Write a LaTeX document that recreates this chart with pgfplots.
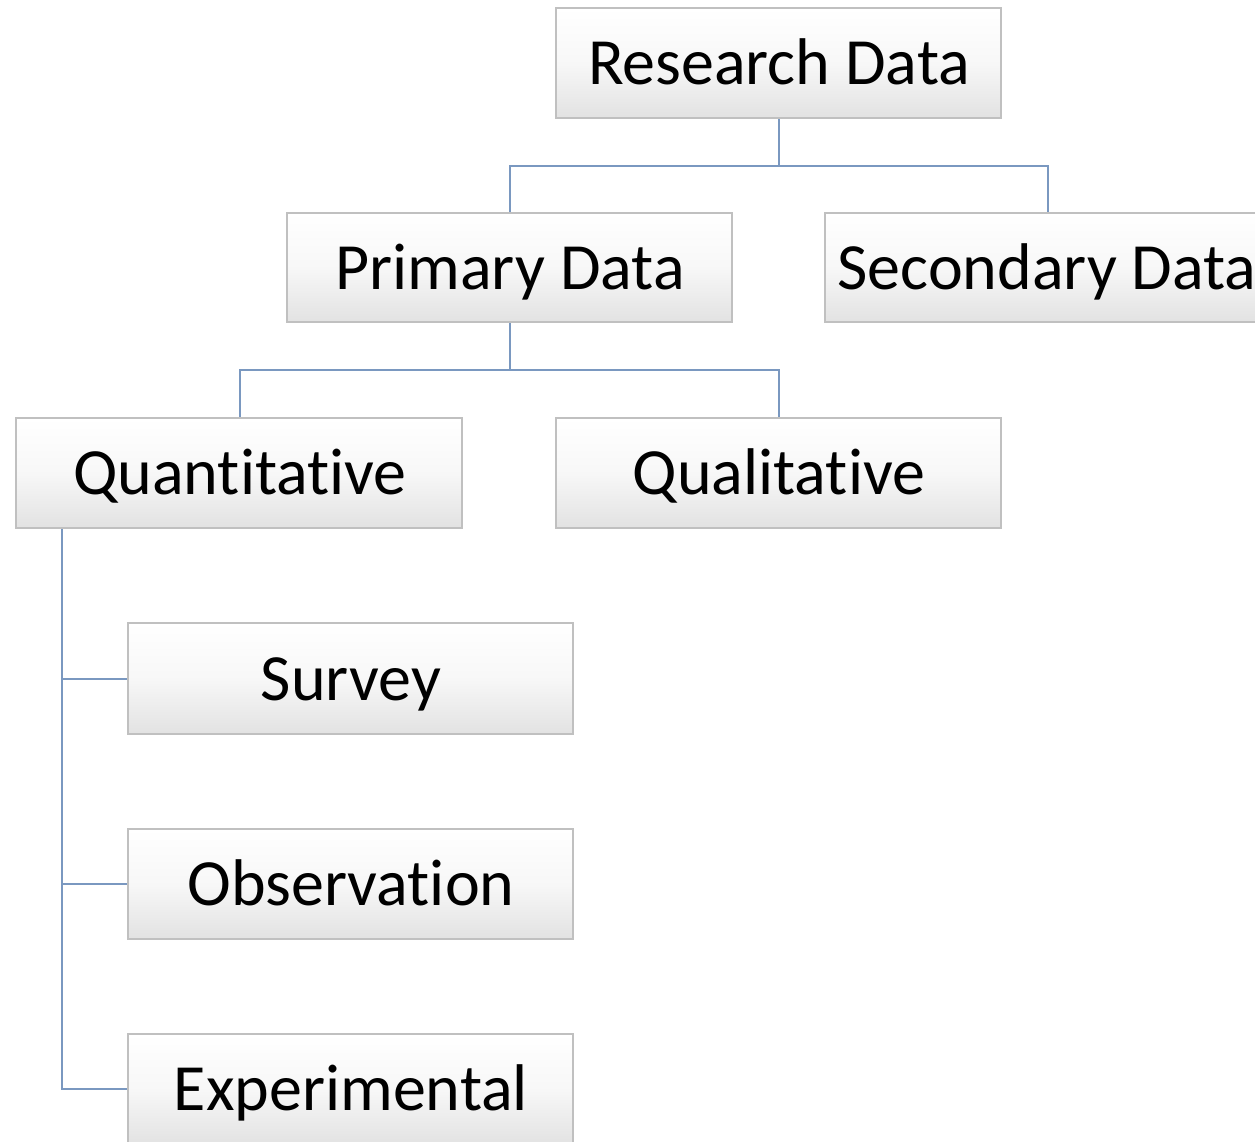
\documentclass[border=0pt]{standalone}
\usepackage{pgfplots}
\pgfplotsset{compat=1.18}
\usepackage{fontspec}
\setmainfont{Carlito}[Ligatures={NoCommon}]
\definecolor{conn}{RGB}{122,152,192}
\definecolor{bord}{RGB}{192,192,192}
\definecolor{shadebot}{RGB}{226,226,226}
\newcommand{\boxlabel}[1]{\fontsize{33}{38}\selectfont #1}
\begin{document}
\begin{tikzpicture}
\begin{axis}[
  scale only axis, width=627.5pt, height=571pt,
  xmin=0, xmax=1255, ymin=0, ymax=1142, y dir=reverse,
  hide axis, clip=false,
]
% connectors
\addplot[conn, line width=1pt] coordinates {(779,118) (779,166)};
\addplot[conn, line width=1pt] coordinates {(510,213) (510,166) (1048,166) (1048,213)};
\addplot[conn, line width=1pt] coordinates {(510,322) (510,370)};
\addplot[conn, line width=1pt] coordinates {(240,418) (240,370) (779,370) (779,418)};
\addplot[conn, line width=1pt] coordinates {(62,528) (62,1089) (128,1089)};
\addplot[conn, line width=1pt] coordinates {(62,679) (128,679)};
\addplot[conn, line width=1pt] coordinates {(62,884) (128,884)};
% boxes
\foreach \xa/\ya/\xb/\yb in {556/8/1001/118, 287/213/732/322, 825/213/1270/322, 16/418/462/528, 556/418/1001/528, 128/623/573/734, 128/829/573/939, 128/1034/573/1145}{
  \edef\tmp{\noexpand\draw[bord, line width=0.75pt, top color=white, bottom color=shadebot, middle color=white!97!black]
    (axis cs:\xa,\ya) rectangle (axis cs:\xb,\yb);}
  \tmp
}
\node[anchor=base] at (axis cs:779,84) {\boxlabel{Research Data}};
\node[anchor=base] at (axis cs:510,289) {\boxlabel{Primary Data}};
\node[anchor=base] at (axis cs:1047,289) {\boxlabel{Secondary Data}};
\node[anchor=base] at (axis cs:240,494) {\boxlabel{Quantitative}};
\node[anchor=base] at (axis cs:779,494) {\boxlabel{Qualitative}};
\node[anchor=base] at (axis cs:351,700) {\boxlabel{Survey}};
\node[anchor=base] at (axis cs:351,905) {\boxlabel{Observation}};
\node[anchor=base] at (axis cs:351,1110) {\boxlabel{Experimental}};
\end{axis}
\pgfresetboundingbox
\useasboundingbox (current axis.south west) rectangle (current axis.north east);
\end{tikzpicture}
\end{document}
